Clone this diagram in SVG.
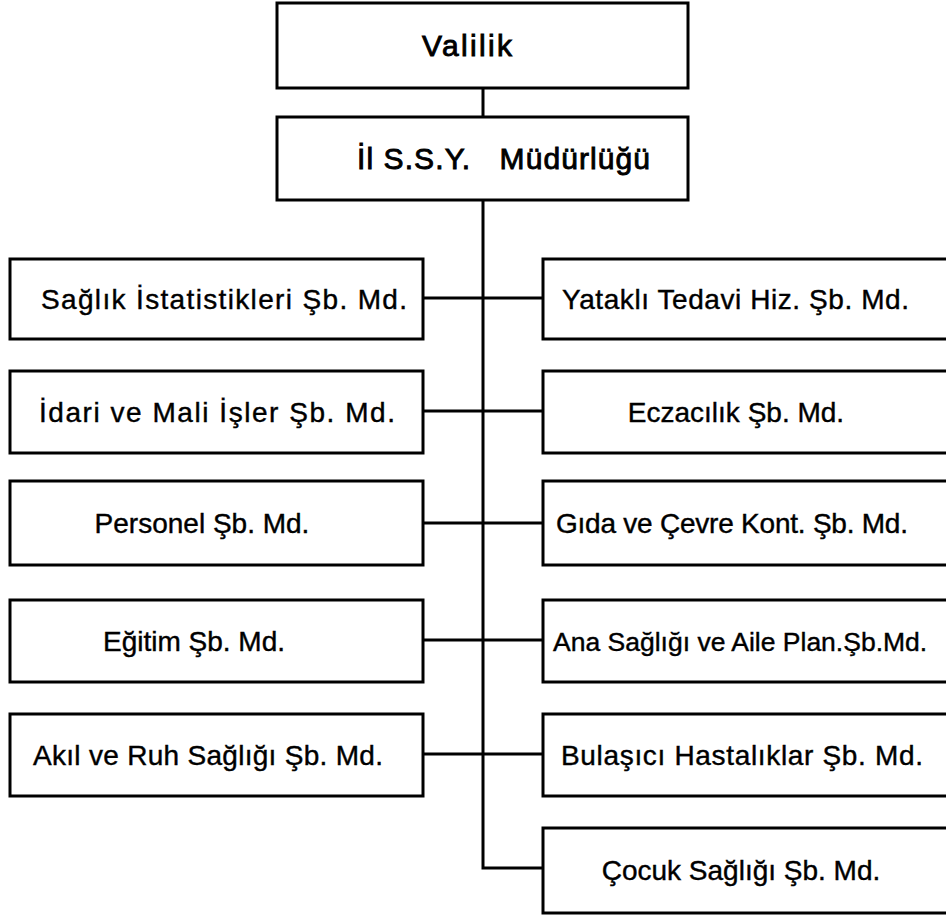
<svg xmlns="http://www.w3.org/2000/svg" width="946" height="917" viewBox="0 0 946 917">
<style>
.box{fill:#fff;stroke:#000;stroke-width:3}
.ln{fill:none;stroke:#000;stroke-width:3}
text{font-family:"Liberation Sans","DejaVu Sans",sans-serif;font-size:28px;fill:#000;stroke:#000;stroke-width:0.4}
.c{text-anchor:middle}
.big{font-size:30px;stroke-width:0.9}
</style>
<rect width="946" height="917" fill="#fff"/>
<g id="connectors">
<path class="ln" d="M483 88V117M483 200V868H543"/>
<path class="ln" d="M423 298H543M423 411H543M423 523H543M423 640H543M423 754H543"/>
</g>
<g id="valilik"><rect class="box" x="277" y="3" width="411" height="85"/><text class="big" x="422" y="56" textLength="90">Valilik</text></g>
<g id="mudurluk"><rect class="box" x="277" y="117" width="411" height="83"/><text class="big" x="357" y="169" textLength="293" xml:space="preserve">İl S.S.Y.   Müdürlüğü</text></g>
<g id="saglik-istatistik"><rect class="box" x="10" y="259" width="413" height="80"/><text x="41" y="309" textLength="366">Sağlık İstatistikleri Şb. Md.</text></g>
<g id="yatakli"><rect class="box" x="543" y="259" width="410" height="80"/><text x="562" y="309" textLength="347">Yataklı Tedavi Hiz. Şb. Md.</text></g>
<g id="idari"><rect class="box" x="10" y="371" width="413" height="82"/><text x="39" y="422" textLength="356">İdari ve Mali İşler Şb. Md.</text></g>
<g id="eczacilik"><rect class="box" x="543" y="371" width="410" height="82"/><text class="c" x="736" y="422">Eczacılık Şb. Md.</text></g>
<g id="personel"><rect class="box" x="10" y="481" width="413" height="84"/><text class="c" x="202" y="533">Personel Şb. Md.</text></g>
<g id="gida"><rect class="box" x="543" y="481" width="410" height="84"/><text x="556" y="533" textLength="352">Gıda ve Çevre Kont. Şb. Md.</text></g>
<g id="egitim"><rect class="box" x="10" y="600" width="413" height="82"/><text class="c" x="194" y="651">Eğitim Şb. Md.</text></g>
<g id="ana-sagligi"><rect class="box" x="543" y="600" width="410" height="82"/><text x="553" y="651" style="font-size:26.5px">Ana Sağlığı ve Aile Plan.Şb.Md.</text></g>
<g id="akil"><rect class="box" x="10" y="714" width="413" height="82"/><text x="33" y="765" textLength="350">Akıl ve Ruh Sağlığı Şb. Md.</text></g>
<g id="bulasici"><rect class="box" x="543" y="714" width="410" height="82"/><text x="561" y="765" textLength="362">Bulaşıcı Hastalıklar Şb. Md.</text></g>
<g id="cocuk"><rect class="box" x="543" y="828" width="410" height="85"/><text class="c" x="741" y="880">Çocuk Sağlığı Şb. Md.</text></g>
</svg>
